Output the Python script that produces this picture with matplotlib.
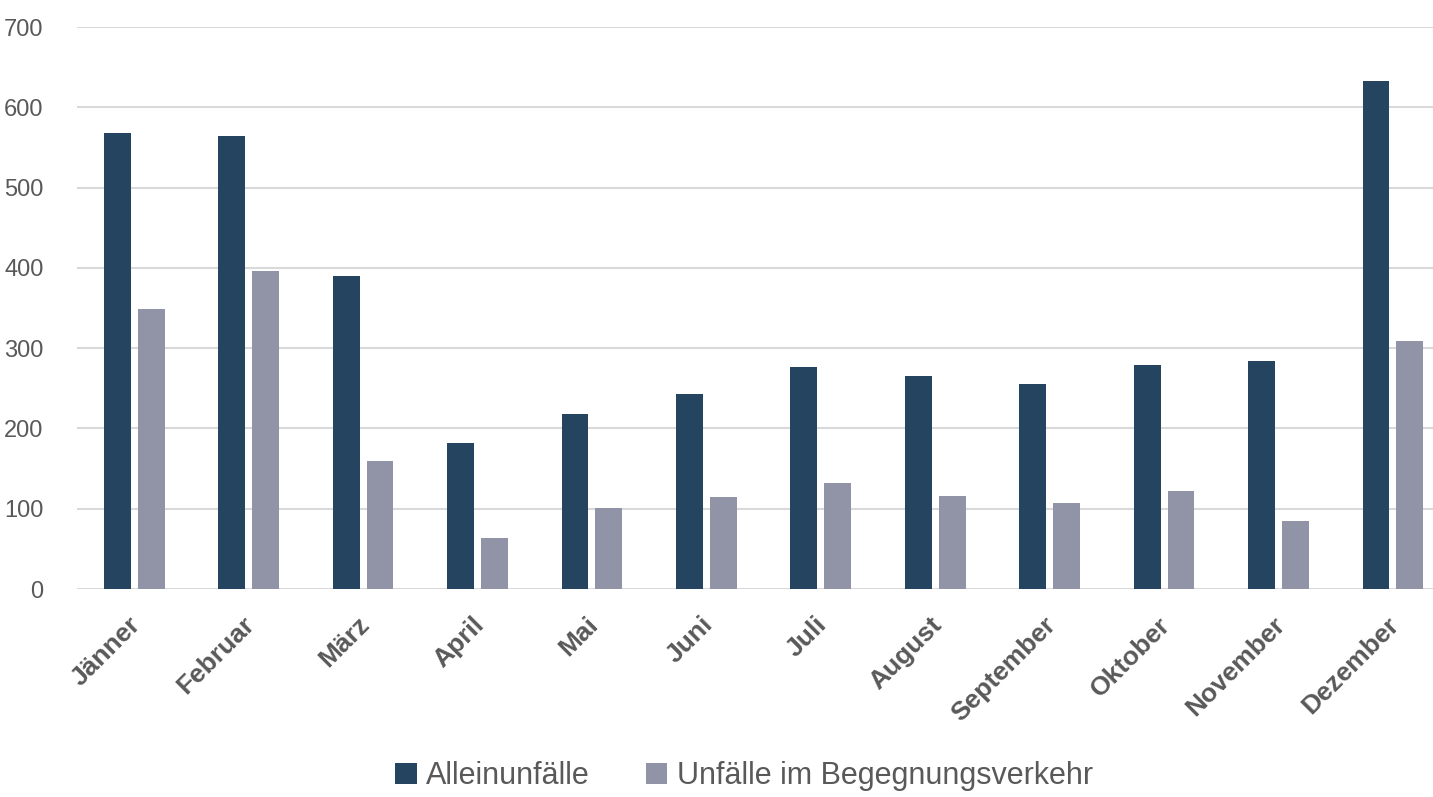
import matplotlib
matplotlib.use("Agg")
import matplotlib.pyplot as plt
import matplotlib.transforms as mtransforms
import numpy as np

months = ["Jänner", "Februar", "März", "April", "Mai", "Juni", "Juli",
          "August", "September", "Oktober", "November", "Dezember"]
allein = [568, 564, 390, 182, 218, 243, 276, 265, 255, 279, 284, 633]
begegnung = [349, 396, 159, 64, 101, 115, 132, 116, 107, 122, 85, 309]
series_names = ["Alleinunfälle", "Unfälle im Begegnungsverkehr"]
yticks = [0, 100, 200, 300, 400, 500, 600, 700]

plt.rcParams["font.family"] = ["Liberation Sans", "DejaVu Sans"]

dark = "#25445F"
light = "#9194A7"
grey_text = "#595959"

fig = plt.figure(figsize=(14.33, 7.97), dpi=100)
ax = fig.add_axes([77/1433, 1-589/797, 1-77/1433, (589-27)/797])

x = np.arange(len(months))
w = 0.235
off = 0.148
ax.bar(x - off, allein, width=w, color=dark, label=series_names[0], zorder=3)
ax.bar(x + off, begegnung, width=w, color=light, label=series_names[1], zorder=3)

ax.set_xlim(-0.5, 11.35)
ax.set_ylim(0, 700)
ax.set_yticks(yticks)
ax.yaxis.grid(True, color="#D9D9D9", linewidth=1.5, zorder=0)
ax.set_axisbelow(True)
for s in ax.spines.values():
    s.set_visible(False)
ax.tick_params(axis="y", length=0, pad=24, labelsize=17, labelcolor=grey_text)
ax.tick_params(axis="x", length=0, pad=17)
ax.set_xticks(x)
ax.set_xticklabels(months, rotation=45, ha="right", va="top", rotation_mode="anchor",
                   fontsize=19, fontweight="bold", color=grey_text)
shift = mtransforms.ScaledTranslation(-6/100, 0, fig.dpi_scale_trans)
for lab in ax.get_xticklabels():
    lab.set_transform(lab.get_transform() + shift)

fig.legend(loc="center", bbox_to_anchor=(744/1433, 1-776/797), ncol=2, frameon=False,
           fontsize=22, handlelength=0.7, handleheight=0.7, handletextpad=0.3,
           columnspacing=1.85, labelcolor=grey_text)

fig.savefig("out.png", dpi=100)
